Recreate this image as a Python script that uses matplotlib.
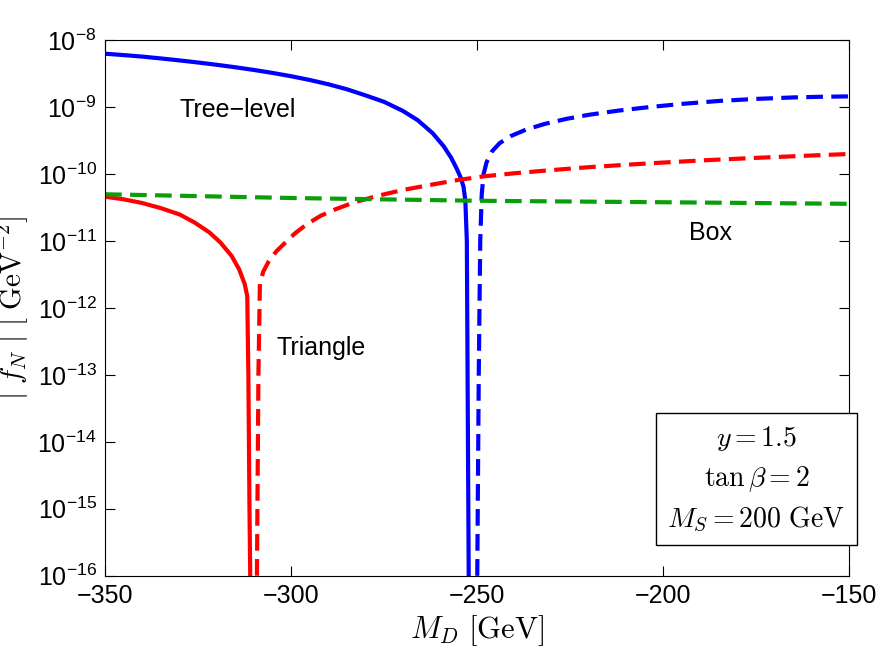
import matplotlib
matplotlib.use("Agg")
import matplotlib.pyplot as plt

plt.rcParams["font.family"] = "Liberation Sans"
plt.rcParams["mathtext.fontset"] = "cm"

# tree-level (solid: positive branch, dashed: negative branch)
tree_sol_x = [-350, -345, -340, -335, -330, -325, -320, -315, -310, -305, -300, -295, -290, -285, -280,
              -275, -270, -266, -262, -259, -257, -255.5, -254.5, -253.7, -253.2, -252.8, -252.6, -252.3]
tree_sol_y = [6.3e-9, 6.0e-9, 5.7e-9, 5.35e-9, 5.0e-9, 4.65e-9, 4.3e-9, 3.95e-9, 3.6e-9, 3.25e-9, 2.9e-9,
              2.55e-9, 2.2e-9, 1.85e-9, 1.5e-9, 1.2e-9, 8.8e-10, 6.4e-10, 4.1e-10, 2.6e-10, 1.75e-10,
              1.2e-10, 9e-11, 6.5e-11, 4e-11, 1e-11, 1e-13, 1e-16]
tree_dash_x = [-250, -249.6, -249.2, -248.8, -248.3, -247.5, -246, -244, -241, -237, -232, -226, -220,
               -212, -204, -195, -185, -175, -165, -158, -150]
tree_dash_y = [1e-16, 1e-13, 1e-11, 5e-11, 1e-10, 1.5e-10, 2.2e-10, 2.9e-10, 3.7e-10, 4.6e-10, 5.6e-10,
               6.7e-10, 7.7e-10, 8.9e-10, 1.0e-9, 1.12e-9, 1.24e-9, 1.33e-9, 1.4e-9, 1.43e-9, 1.45e-9]

# triangle
tri_sol_x = [-350, -345, -340, -335, -330, -326, -322, -319, -316, -314, -312.5, -311.8, -311.5, -311.2, -311]
tri_sol_y = [4.6e-11, 4.2e-11, 3.7e-11, 3.1e-11, 2.5e-11, 1.9e-11, 1.35e-11, 9.5e-12, 6e-12, 3.8e-12,
             2.3e-12, 1.5e-12, 1e-13, 1e-15, 1e-16]
tri_dash_x = [-309.2, -308.8, -308.4, -307.5, -306, -304, -302, -299, -296, -292, -288, -283, -277,
              -270, -262, -255, -248, -240, -230, -220, -210, -200, -188, -175, -162, -150]
tri_dash_y = [1e-16, 1e-13, 2.3e-12, 3.5e-12, 5e-12, 7e-12, 9e-12, 1.3e-11, 1.75e-11, 2.4e-11, 3.0e-11,
              3.8e-11, 4.7e-11, 5.8e-11, 7.0e-11, 8.2e-11, 9.3e-11, 1.03e-10, 1.15e-10, 1.27e-10,
              1.38e-10, 1.49e-10, 1.62e-10, 1.75e-10, 1.88e-10, 2.0e-10]

# box
box_x = [-350, -300, -250, -200, -150]
box_y = [5e-11, 4.4e-11, 4e-11, 3.8e-11, 3.6e-11]

fig = plt.figure(figsize=(8.83, 6.71), dpi=100)
ax = fig.add_axes([0.119, 0.142, 0.843, 0.798])

ax.plot(tree_sol_x, tree_sol_y, color="#0000ff", lw=3)
ax.plot(tree_dash_x, tree_dash_y, color="#0000ff", lw=3, ls=(0, (4, 2)))
ax.plot(tri_sol_x, tri_sol_y, color="#ff0000", lw=3)
ax.plot(tri_dash_x, tri_dash_y, color="#ff0000", lw=3, ls=(0, (4, 2)))
ax.plot(box_x, box_y, color="#0a9e0a", lw=3, ls=(0, (4, 2)))

ax.set_yscale("log")
ax.set_xlim(-350, -150)
ax.set_ylim(1e-16, 1e-8)
ax.set_xticks([-350, -300, -250, -200, -150])
ax.set_yticks([10.0 ** k for k in range(-16, -7)])
ax.minorticks_off()
ax.tick_params(labelsize=18, direction="in", length=7, top=True, right=True, pad=6)

ax.set_xlabel(r"$M_D\ [\mathrm{GeV}]$", fontsize=22)
ax.set_ylabel(r"$|\ f_N\ |\ [\ \mathrm{GeV}^{-2}]$", fontsize=21)
ax.yaxis.set_label_coords(-0.1, 0.5)

ax.text(-330, 9e-10, "Tree\u2212level", fontsize=18, ha="left", va="center")
ax.text(-193, 1.3e-11, "Box", fontsize=18, ha="left", va="center")
ax.text(-304, 2.5e-13, "Triangle", fontsize=18, ha="left", va="center")
ax.text(0.875, 0.18, "$y = 1.5$\n$\\tan\\beta = 2$\n$M_S = 200\\ \\mathrm{GeV}$",
        transform=ax.transAxes, fontsize=20, ha="center", va="center",
        linespacing=1.5, bbox=dict(boxstyle="square,pad=0.4", fc="white", ec="black"))

fig.savefig("out.png", dpi=100)
